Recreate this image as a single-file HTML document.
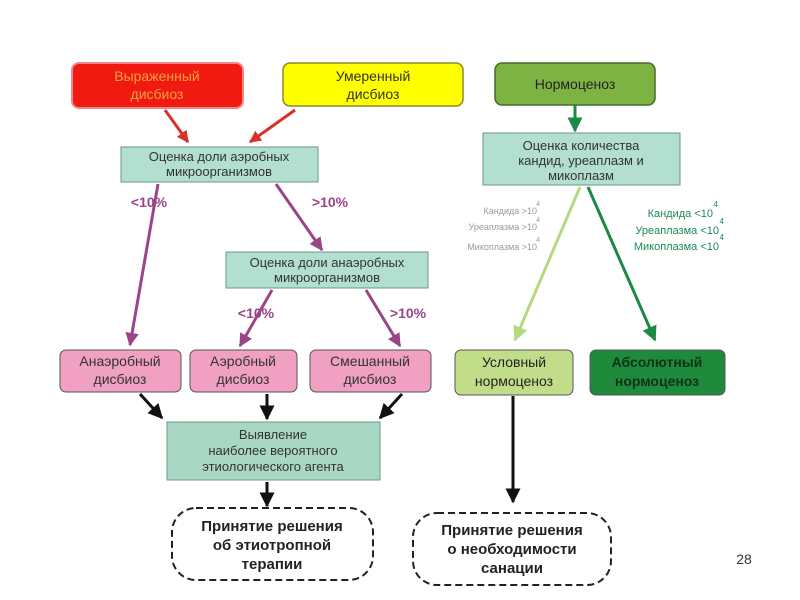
<!DOCTYPE html>
<html><head><meta charset="utf-8"><style>
html,body{margin:0;padding:0;background:#fff;}
svg{display:block;font-family:"Liberation Sans",sans-serif;}
</style></head><body>
<svg width="800" height="600" viewBox="0 0 800 600" xmlns="http://www.w3.org/2000/svg">
<defs>
<marker id="ar" viewBox="0 0 10 10" refX="9" refY="5" markerWidth="4" markerHeight="4" orient="auto"><path d="M0,0L10,5L0,10z" fill="#d9312a"/></marker>
<marker id="ap" viewBox="0 0 10 10" refX="9" refY="5" markerWidth="4.5" markerHeight="4.5" orient="auto"><path d="M0,0L10,5L0,10z" fill="#9b4589"/></marker>
<marker id="ab" viewBox="0 0 10 10" refX="9" refY="5" markerWidth="5" markerHeight="5" orient="auto"><path d="M0,0L10,5L0,10z" fill="#111"/></marker>
<marker id="ag" viewBox="0 0 10 10" refX="9" refY="5" markerWidth="5" markerHeight="5" orient="auto"><path d="M0,0L10,5L0,10z" fill="#1b8a44"/></marker>
<marker id="al" viewBox="0 0 10 10" refX="9" refY="5" markerWidth="5" markerHeight="5" orient="auto"><path d="M0,0L10,5L0,10z" fill="#b5d982"/></marker>
</defs>
<g font-size="14" text-anchor="middle">
<!-- top boxes -->
<rect x="72" y="63" width="171" height="45" rx="7" fill="#f01a10" stroke="#e88" stroke-width="2"/>
<text x="157" y="81" fill="#f5a040">Выраженный</text><text x="157" y="99" fill="#f5a040">дисбиоз</text>
<rect x="283" y="63" width="180" height="43" rx="7" fill="#ffff00" stroke="#8a8a2a" stroke-width="1.5"/>
<text x="373" y="81" fill="#333">Умеренный</text><text x="373" y="99" fill="#333">дисбиоз</text>
<rect x="495" y="63" width="160" height="42" rx="7" fill="#7cb342" stroke="#4a6a2a" stroke-width="1.5"/>
<text x="575" y="89" fill="#222">Нормоценоз</text>
<!-- evaluation boxes -->
<rect x="121" y="147" width="197" height="35" fill="#b2dfcf" stroke="#6a9a8a"/>
<text x="219" y="161" font-size="13" fill="#333">Оценка доли аэробных</text><text x="219" y="176" font-size="13" fill="#333">микроорганизмов</text>
<rect x="226" y="252" width="202" height="36" fill="#b2dfcf" stroke="#6a9a8a"/>
<text x="327" y="267" font-size="13" fill="#333">Оценка доли анаэробных</text><text x="327" y="282" font-size="13" fill="#333">микроорганизмов</text>
<rect x="483" y="133" width="197" height="52" fill="#b2dfcf" stroke="#6a9a8a"/>
<text x="581" y="150" font-size="13" fill="#333">Оценка количества</text><text x="581" y="165" font-size="13" fill="#333">кандид, уреаплазм и</text><text x="581" y="180" font-size="13" fill="#333">микоплазм</text>
<!-- arrows -->
<line x1="165" y1="110" x2="188" y2="142" stroke="#d9312a" stroke-width="3" marker-end="url(#ar)"/>
<line x1="295" y1="110" x2="250" y2="142" stroke="#d9312a" stroke-width="3" marker-end="url(#ar)"/>
<line x1="158" y1="184" x2="130" y2="345" stroke="#9b4589" stroke-width="3" marker-end="url(#ap)"/>
<line x1="276" y1="184" x2="322" y2="250" stroke="#9b4589" stroke-width="3" marker-end="url(#ap)"/>
<line x1="272" y1="290" x2="240" y2="346" stroke="#9b4589" stroke-width="3" marker-end="url(#ap)"/>
<line x1="366" y1="290" x2="400" y2="346" stroke="#9b4589" stroke-width="3" marker-end="url(#ap)"/>
<text x="149" y="207" font-weight="bold" fill="#9b4589">&lt;10%</text>
<text x="330" y="207" font-weight="bold" fill="#9b4589">&gt;10%</text>
<text x="256" y="318" font-weight="bold" fill="#9b4589">&lt;10%</text>
<text x="408" y="318" font-weight="bold" fill="#9b4589">&gt;10%</text>
<line x1="575" y1="105" x2="575" y2="131" stroke="#1b8a44" stroke-width="3" marker-end="url(#ag)"/>
<line x1="580" y1="187" x2="515" y2="340" stroke="#b5d982" stroke-width="3" marker-end="url(#al)"/>
<line x1="588" y1="187" x2="655" y2="340" stroke="#1b8a44" stroke-width="3" marker-end="url(#ag)"/>
<g font-size="9" text-anchor="end" fill="#999">
<text x="537" y="214">Кандида &gt;10</text><text x="540" y="206" font-size="7">4</text>
<text x="537" y="230">Уреаплазма &gt;10</text><text x="540" y="222" font-size="7">4</text>
<text x="537" y="250">Микоплазма &gt;10</text><text x="540" y="242" font-size="7">4</text>
</g>
<g font-size="11" text-anchor="end" fill="#1b8a55">
<text x="713" y="217">Кандида &lt;10</text><text x="718" y="207" font-size="8">4</text>
<text x="719" y="234">Уреаплазма &lt;10</text><text x="724" y="224" font-size="8">4</text>
<text x="719" y="250">Микоплазма &lt;10</text><text x="724" y="240" font-size="8">4</text>
</g>
<!-- result boxes -->
<rect x="60" y="350" width="121" height="42" rx="6" fill="#f0a0c0" stroke="#555"/>
<text x="120" y="366" fill="#333">Анаэробный</text><text x="120" y="384" fill="#333">дисбиоз</text>
<rect x="190" y="350" width="107" height="42" rx="6" fill="#f0a0c0" stroke="#555"/>
<text x="243" y="366" fill="#333">Аэробный</text><text x="243" y="384" fill="#333">дисбиоз</text>
<rect x="310" y="350" width="121" height="42" rx="6" fill="#f0a0c0" stroke="#555"/>
<text x="370" y="366" fill="#333">Смешанный</text><text x="370" y="384" fill="#333">дисбиоз</text>
<rect x="455" y="350" width="118" height="45" rx="6" fill="#c2dd8a" stroke="#555"/>
<text x="514" y="367" fill="#222">Условный</text><text x="514" y="386" fill="#222">нормоценоз</text>
<rect x="590" y="350" width="135" height="45" rx="6" fill="#1f8a3c" stroke="#555"/>
<text x="657" y="367" font-weight="bold" fill="#0e3318">Абсолютный</text><text x="657" y="386" font-weight="bold" fill="#0e3318">нормоценоз</text>
<!-- black arrows -->
<line x1="140" y1="394" x2="162" y2="418" stroke="#111" stroke-width="3" marker-end="url(#ab)"/>
<line x1="267" y1="394" x2="267" y2="419" stroke="#111" stroke-width="3" marker-end="url(#ab)"/>
<line x1="402" y1="394" x2="380" y2="418" stroke="#111" stroke-width="3" marker-end="url(#ab)"/>
<line x1="267" y1="482" x2="267" y2="506" stroke="#111" stroke-width="3" marker-end="url(#ab)"/>
<line x1="513" y1="396" x2="513" y2="502" stroke="#111" stroke-width="3" marker-end="url(#ab)"/>
<rect x="167" y="422" width="213" height="58" fill="#a8d8c4" stroke="#6a9a8a"/>
<text x="273" y="439" font-size="13" fill="#333">Выявление</text>
<text x="273" y="455" font-size="13" fill="#333">наиболее вероятного</text>
<text x="273" y="471" font-size="13" fill="#333">этиологического агента</text>
<!-- dashed -->
<rect x="172" y="508" width="201" height="72" rx="24" fill="#fff" stroke="#222" stroke-width="2" stroke-dasharray="7,4"/>
<text x="272" y="531" font-size="15" font-weight="bold" fill="#222">Принятие решения</text>
<text x="272" y="550" font-size="15" font-weight="bold" fill="#222">об этиотропной</text>
<text x="272" y="569" font-size="15" font-weight="bold" fill="#222">терапии</text>
<rect x="413" y="513" width="198" height="72" rx="24" fill="#fff" stroke="#222" stroke-width="2" stroke-dasharray="7,4"/>
<text x="512" y="535" font-size="15" font-weight="bold" fill="#222">Принятие решения</text>
<text x="512" y="554" font-size="15" font-weight="bold" fill="#222">о необходимости</text>
<text x="512" y="573" font-size="15" font-weight="bold" fill="#222">санации</text>
<text x="744" y="564" font-size="14" fill="#333">28</text>
</g>
</svg>
</body></html>
